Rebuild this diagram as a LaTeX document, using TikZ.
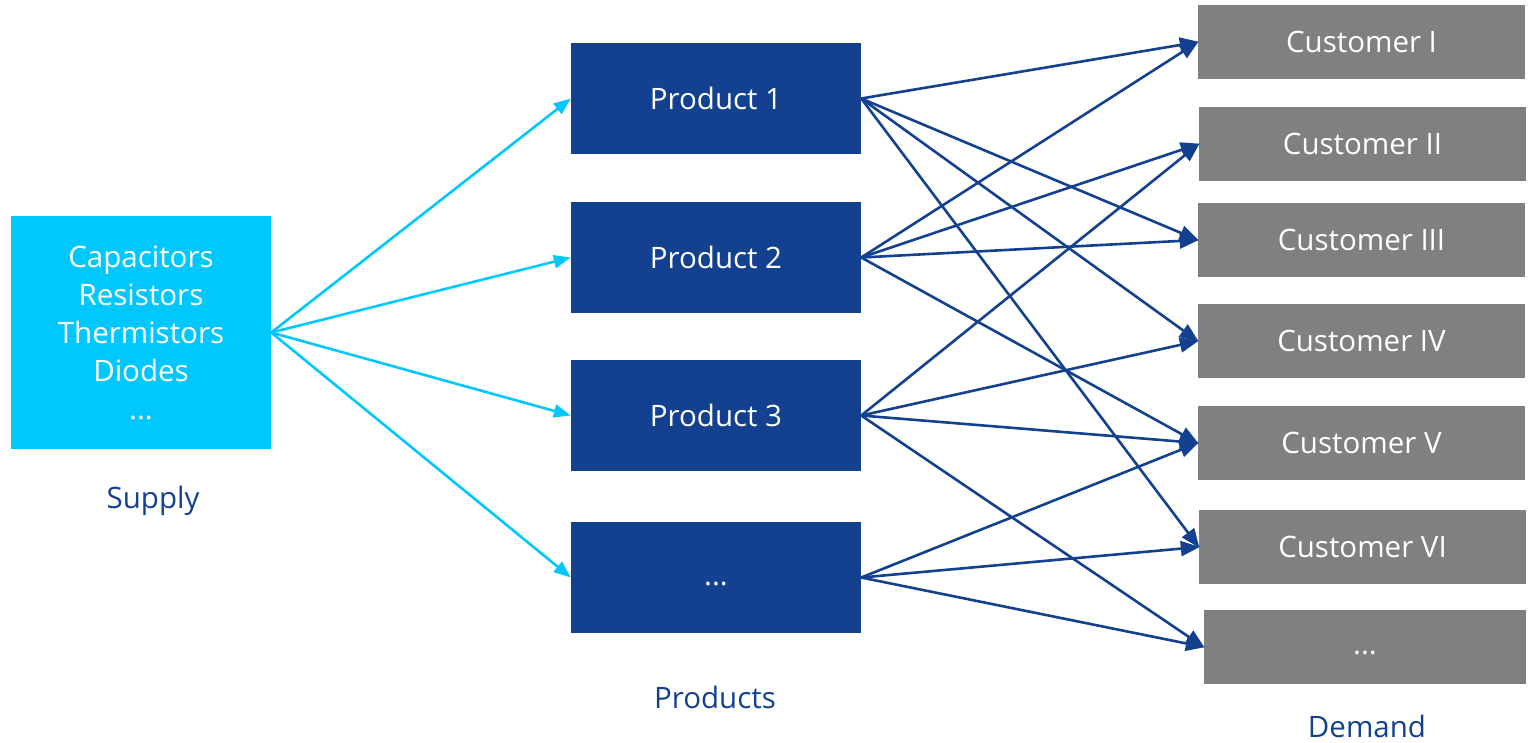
\documentclass[tikz,border=0pt]{standalone}
\usepackage{fontspec}
\setmainfont{Open Sans}
\usetikzlibrary{arrows.meta}
\definecolor{cyanb}{HTML}{00C8FF}
\definecolor{navyb}{HTML}{134190}
\definecolor{grayb}{HTML}{808080}
\begin{document}
\begin{tikzpicture}[x=1pt,y=-1pt,
  box/.style={draw=none,minimum width=#1,inner sep=0pt,text=white,font=\fontsize{29.5}{38}\selectfont,align=center},
  prod/.style={box=290pt,fill=navyb,minimum height=111pt},
  cust/.style={box=327pt,fill=grayb,minimum height=74pt},
  lab/.style={text=navyb,font=\fontsize{29.5}{34}\selectfont},
  sarr/.style={draw=cyanb,line width=2.6pt,-{Triangle[length=17pt,width=13pt]}},
  parr/.style={draw=navyb,line width=2.6pt,-{Triangle[length=19pt,width=15pt]},shorten >=-1pt}]
\useasboundingbox (0,0) rectangle (1528,742);
\node[box=260pt,fill=cyanb,minimum height=233pt] (sup) at (141,332.5) {Capacitors\\Resistors\\Thermistors\\Diodes\\...};
\node[lab] (suplab) at (153,501) {Supply};
\node[prod] (p1) at (716,98.5) {Product 1};
\node[prod] (p2) at (716,257.5) {Product 2};
\node[prod] (p3) at (716,415.5) {Product 3};
\node[prod] (p4) at (716,577.5) {\strut...};
\node[lab] (prodlab) at (715,697) {Products};
\node[cust] (c1) at (1361.5,42) {Customer I};
\node[cust] (c2) at (1362.5,144) {Customer II};
\node[cust] (c3) at (1361.5,240) {Customer III};
\node[cust] (c4) at (1361.5,341) {Customer IV};
\node[cust] (c5) at (1361.5,443) {Customer V};
\node[cust] (c6) at (1362.5,547) {Customer VI};
\node[cust,minimum width=322pt] (c7) at (1365,647) {\strut...};
\node[lab] (demlab) at (1367,726) {Demand};
\foreach \p in {p1,p2,p3,p4} \draw[sarr] (sup.east) -- (\p.west);
\foreach \p/\c in {p1/c1,p1/c3,p1/c4,p1/c6,p2/c1,p2/c2,p2/c3,p2/c5,p3/c2,p3/c4,p3/c5,p3/c7,p4/c5,p4/c6,p4/c7}
  \draw[parr] (\p.east) -- (\c.west);
\end{tikzpicture}
\end{document}
